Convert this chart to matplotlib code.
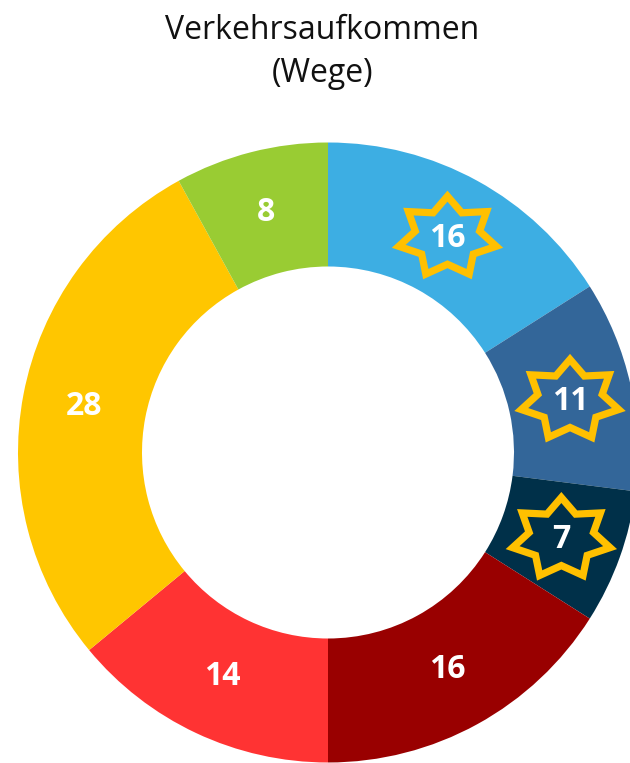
import numpy as np
import matplotlib
matplotlib.use("Agg")
import matplotlib.pyplot as plt
from matplotlib.patches import Polygon

values = [16, 11, 7, 16, 14, 28, 8]
labels = ["16", "11", "7", "16", "14", "28", "8"]
colors = ["#3DAEE3", "#336699", "#003049", "#990000", "#FF3333", "#FFC600", "#99CC33"]
starred = [True, True, True, False, False, False, False]
title_lines = ["Verkehrsaufkommen", "(Wege)"]

W, H = 630, 763
fig = plt.figure(figsize=(W / 100, H / 100), dpi=100)
ax = fig.add_axes([0, 0, 1, 1])
ax.set_xlim(0, W)
ax.set_ylim(0, H)
ax.set_aspect("equal")
ax.axis("off")

cx, cy = 328, H - 452.5
R = 310
width = R - 186
ldist = 0.80

wedges, _ = ax.pie(values, colors=colors, startangle=90, counterclock=False,
                   center=(cx, cy), radius=R,
                   wedgeprops=dict(width=width, linewidth=0))
ax.set_xlim(0, W)
ax.set_ylim(0, H)

total = sum(values)
cum = 0
for v, lab, st in zip(values, labels, starred):
    mid = np.deg2rad(90 - (cum + v / 2) / total * 360)
    cum += v
    x = cx + ldist * R * np.cos(mid)
    y = cy + ldist * R * np.sin(mid)
    if st:
        y -= 3
        n = 7
        angs = np.deg2rad(90 + np.arange(2 * n) * 180 / n)
        rads = np.where(np.arange(2 * n) % 2 == 0, 1.0, 0.66)
        pts = np.column_stack([x + 50 * rads * np.cos(angs), y + 1 + 41 * rads * np.sin(angs)])
        ax.add_patch(Polygon(pts, closed=True, fill=False, edgecolor="#FFC000",
                             linewidth=5.2, joinstyle="miter", zorder=3))
    ax.text(x, y, lab, ha="center", va="center", color="white", fontsize=23,
            fontweight="bold", family="Open Sans", zorder=4)

fig.text(322.5 / W, 1 - 39 / H, title_lines[0], ha="center", va="baseline",
         fontsize=23, family="Open Sans", color="#111111")
fig.text(322.5 / W, 1 - 82 / H, title_lines[1], ha="center", va="baseline",
         fontsize=23, family="Open Sans", color="#111111")

fig.savefig("out.png", dpi=100, facecolor="white")
